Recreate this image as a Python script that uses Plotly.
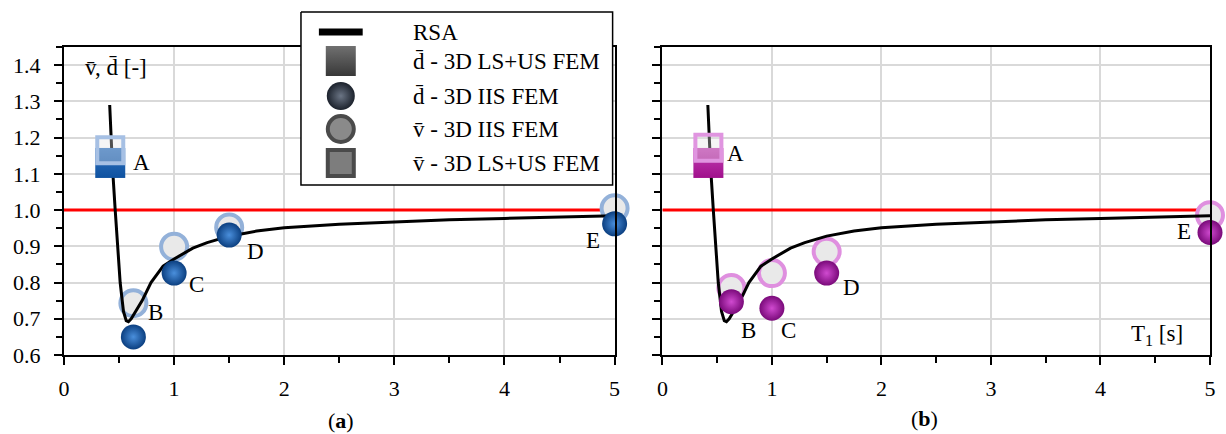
import plotly.graph_objects as go

# ---------------- data ----------------
rsa_T = [0.415, 0.44, 0.465, 0.485, 0.51, 0.54, 0.565, 0.585, 0.61, 0.65, 0.71, 0.79,
         0.9, 1.0, 1.17, 1.3, 1.5, 1.75, 2.0, 2.5, 3.0, 3.5, 4.0, 4.5, 5.0]
rsa_ratio = [1.29, 1.12, 1.0, 0.90, 0.80, 0.72, 0.695, 0.692, 0.70, 0.72, 0.75, 0.80,
             0.845, 0.865, 0.895, 0.91, 0.928, 0.942, 0.951, 0.961, 0.968, 0.973, 0.977, 0.981, 0.984]
ref_T = [0, 5]
ref_ratio = [1.0, 1.0]

point_A_T = [0.42]
points_BE_T = [0.63, 1.0, 1.5, 5.0]
point_names = ["A", "B", "C", "D", "E"]

# panel (a)
d_lsus_a = [1.13]
v_lsus_a = [1.165]
d_iis_a = [0.65, 0.826, 0.931, 0.962]
v_iis_a = [0.743, 0.899, 0.952, 1.005]
label_x_a = [0.70, 0.83, 1.20, 1.74, 4.80]
label_y_a = [1.13, 0.717, 0.794, 0.885, 0.917]

# panel (b)
d_lsus_b = [1.13]
v_lsus_b = [1.172]
d_iis_b = [0.747, 0.729, 0.826, 0.938]
v_iis_b = [0.785, 0.826, 0.885, 0.986]
label_x_b = [0.67, 0.79, 1.15, 1.73, 4.76]
label_y_b = [1.157, 0.669, 0.669, 0.785, 0.94]

legend_names = ["RSA", "d\u0304 - 3D LS+US FEM", "d\u0304 - 3D IIS FEM",
                "v\u0304 - 3D IIS FEM", "v\u0304 - 3D LS+US FEM"]

FONT = "Liberation Serif"

# ---------------- figure ----------------
W, H = 1226, 434
ML, MR, MT, MB = 64, 11, 10, 79
fig = go.Figure()

styles = {
    "a": dict(xa="x", ya="y", sph="#0b3f80", sph_c="#4a8fdc", ring="#93b1d9",
              cube_top="#2f72c0", cube_bot="#0f52a0", sq="#a6c0e4"),
    "b": dict(xa="x2", ya="y2", sph="#7a0a7a", sph_c="#d04ad0", ring="#df8fdf",
              cube_top="#c43fb4", cube_bot="#a0108c", sq="#e095e0"),
}
panel_data = {
    "a": (d_lsus_a, v_lsus_a, d_iis_a, v_iis_a),
    "b": (d_lsus_b, v_lsus_b, d_iis_b, v_iis_b),
}

for key in ["a", "b"]:
    s = styles[key]
    d_lsus, v_lsus, d_iis, v_iis = panel_data[key]
    common = dict(xaxis=s["xa"], yaxis=s["ya"], showlegend=False, hoverinfo="skip")
    fig.add_trace(go.Scatter(x=ref_T, y=ref_ratio, mode="lines",
                             line=dict(color="#ff0000", width=3), **common))
    fig.add_trace(go.Scatter(x=points_BE_T, y=v_iis, mode="markers", cliponaxis=False,
                             marker=dict(symbol="circle", size=26, color="#e9e9e9",
                                         line=dict(color=s["ring"], width=4)), **common))
    fig.add_trace(go.Scatter(x=rsa_T, y=rsa_ratio, mode="lines",
                             line=dict(color="black", width=3), **common))
    fig.add_trace(go.Scatter(x=points_BE_T, y=d_iis, mode="markers", cliponaxis=False,
                             marker=dict(symbol="circle", size=25, color=s["sph"],
                                         gradient=dict(type="radial", color=s["sph_c"]),
                                         line=dict(width=0)), **common))
    fig.add_trace(go.Scatter(x=point_A_T, y=d_lsus, mode="markers", cliponaxis=False,
                             marker=dict(symbol="square", size=30, color=s["cube_top"],
                                         gradient=dict(type="vertical", color=s["cube_bot"]),
                                         line=dict(width=0)), **common))
    fig.add_trace(go.Scatter(x=point_A_T, y=v_lsus, mode="markers", cliponaxis=False,
                             marker=dict(symbol="square", size=26, color="rgba(225,225,225,0.35)",
                                         line=dict(color=s["sq"], width=4)), **common))

# ---------------- manual legend (overlay subplot in pixel units) ----------------
fig.add_trace(go.Scatter(x=[302, 615, 615, 302, 302], y=[12, 12, 185, 185, 12],
                         mode="lines", fill="toself", fillcolor="white",
                         line=dict(color="black", width=1.5),
                         xaxis="x3", yaxis="y3", showlegend=False, hoverinfo="skip"))
fig.add_trace(go.Scatter(x=[320, 364], y=[32, 32], mode="lines",
                         line=dict(color="black", width=7),
                         xaxis="x3", yaxis="y3", showlegend=False, hoverinfo="skip"))
leg_y = [32, 61, 96, 129, 163]
fig.add_trace(go.Scatter(x=[342], y=[leg_y[1]], mode="markers",
                         marker=dict(symbol="square", size=30, color="#707070",
                                     gradient=dict(type="vertical", color="#383838"),
                                     line=dict(width=0)),
                         xaxis="x3", yaxis="y3", showlegend=False, hoverinfo="skip"))
fig.add_trace(go.Scatter(x=[342], y=[leg_y[2]], mode="markers",
                         marker=dict(symbol="circle", size=28, color="#1c222c",
                                     gradient=dict(type="radial", color="#6b7585"),
                                     line=dict(width=0)),
                         xaxis="x3", yaxis="y3", showlegend=False, hoverinfo="skip"))
fig.add_trace(go.Scatter(x=[342], y=[leg_y[3]], mode="markers",
                         marker=dict(symbol="circle", size=26, color="#8a8a8a",
                                     line=dict(color="#4a4a4a", width=4)),
                         xaxis="x3", yaxis="y3", showlegend=False, hoverinfo="skip"))
fig.add_trace(go.Scatter(x=[342], y=[leg_y[4]], mode="markers",
                         marker=dict(symbol="square", size=26, color="#7d7d7d",
                                     line=dict(color="#4a4a4a", width=4)),
                         xaxis="x3", yaxis="y3", showlegend=False, hoverinfo="skip"))

annotations = []
for name, yy in zip(legend_names, leg_y):
    annotations.append(dict(x=413, y=yy, xref="x3", yref="y3", text=name, showarrow=False,
                            xanchor="left", yanchor="middle",
                            font=dict(family=FONT, size=23, color="black")))

# point labels
for names, lx, ly, xr, yr in [(point_names, label_x_a, label_y_a, "x", "y"),
                              (point_names, label_x_b, label_y_b, "x2", "y2")]:
    for n, x, y in zip(names, lx, ly):
        annotations.append(dict(x=x, y=y, xref=xr, yref=yr, text=n, showarrow=False,
                                xanchor="center", yanchor="middle",
                                font=dict(family=FONT, size=23, color="black")))

plot_w = W - ML - MR
plot_h = H - MT - MB


def px_x(px):
    return (px - ML) / plot_w


def px_y(py):
    return (H - MB - py) / plot_h


annotations += [
    dict(x=116, y=67, xref="x3", yref="y3", text="v\u0304, d\u0304 [-]", showarrow=False,
         xanchor="center", yanchor="middle", font=dict(family=FONT, size=23, color="black")),
    dict(x=1162, y=335, xref="x3", yref="y3", text="T<sub>1</sub> [s]", showarrow=False,
         xanchor="center", yanchor="middle", font=dict(family=FONT, size=23, color="black")),
    dict(x=px_x(342), y=px_y(420), xref="paper", yref="paper", text="(<b>a</b>)",
         showarrow=False, xanchor="center", yanchor="middle",
         font=dict(family=FONT, size=22, color="black")),
    dict(x=px_x(928), y=px_y(418), xref="paper", yref="paper", text="(<b>b</b>)",
         showarrow=False, xanchor="center", yanchor="middle",
         font=dict(family=FONT, size=22, color="black")),
]

y_top = (355 - 47) / plot_h
xa_dom = [0, (617 - ML) / plot_w]
xb_dom = [(665 - ML) / plot_w, 1]

tickfont = dict(family=FONT, size=22, color="black")
xcommon = dict(range=[0, 5], dtick=1, tick0=0, showline=True, linecolor="black", linewidth=2,
               mirror=True, ticks="outside", ticklen=8, tickwidth=1.5, tickcolor="black",
               showgrid=True, gridcolor="#d9d9d9", gridwidth=1.5, zeroline=False,
               tickfont=tickfont, ticklabelstandoff=5,
               minor=dict(dtick=0.5, ticks="outside", ticklen=6, tickwidth=1.5,
                          tickcolor="black", showgrid=False))
ycommon = dict(range=[0.6, 1.45], dtick=0.1, tick0=0.6, showline=True, linecolor="black",
               linewidth=2, mirror=True, ticks="outside", ticklen=8, tickwidth=1.5,
               tickcolor="black", showgrid=True, gridcolor="#d9d9d9", gridwidth=1.5,
               zeroline=False, tickfont=tickfont, tickformat=".1f", ticklabelstandoff=9,
               domain=[0, y_top],
               minor=dict(dtick=0.05, ticks="outside", ticklen=6, tickwidth=1.5,
                          tickcolor="black", showgrid=False))

fig.update_layout(
    width=W, height=H,
    margin=dict(l=ML, r=MR, t=MT, b=MB, pad=0),
    paper_bgcolor="white", plot_bgcolor="rgba(0,0,0,0)",
    showlegend=False,
    xaxis=dict(domain=xa_dom, anchor="y", **xcommon),
    yaxis=dict(anchor="x", **ycommon),
    xaxis2=dict(domain=xb_dom, anchor="y2", **xcommon),
    yaxis2=dict(anchor="x2", showticklabels=False, **ycommon),
    xaxis3=dict(domain=[0, 1], range=[ML, W - MR], visible=False, anchor="y3", fixedrange=True),
    yaxis3=dict(domain=[0, 1], range=[H - MB, MT], visible=False, anchor="x3", fixedrange=True),
    annotations=annotations,
)

fig.write_html("out.html")
